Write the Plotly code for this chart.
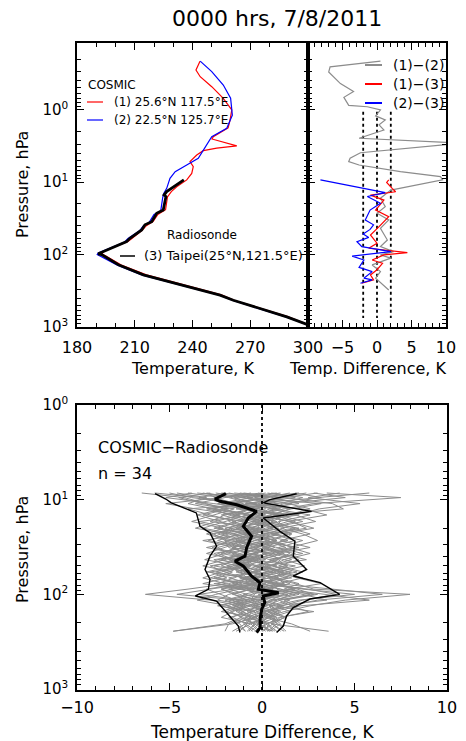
import plotly.graph_objects as go

W, H = 466, 741

# ---------------- top-left: temperature profiles ----------------
T_COSMIC1 = [243.9, 241.8, 244.0, 250.0, 256.0, 260.4, 259.5, 258.5, 250.8, 250.1, 263.0, 252.6, 245.6,
             242.2, 238.7, 240.4, 239.6, 237.0, 231.8, 229.0, 227.0, 226.0, 222.0, 219.5, 216.0, 214.0,
             208.5, 206.5, 194.0, 193.0, 195.0, 203.0, 216.0, 233.0, 255.0, 262.0, 275.5, 289.5, 300.0]
P_COSMIC1 = [0.214, 0.284, 0.351, 0.482, 0.697, 1.01, 1.39, 1.78, 2.36, 2.54, 3.16, 3.39, 3.68, 4.23,
             5.22, 6.12, 7.59, 9.33, 11.6, 13.5, 16.0, 24.0, 28.0, 35.0, 40.0, 46.0, 60.0, 66.0, 90.0,
             98.0, 105.0, 140.0, 190.0, 250.0, 360.0, 430.0, 550.0, 720.0, 930.0]
T_COSMIC2 = [244.0, 250.0, 256.0, 259.8, 260.7, 257.8, 250.0, 245.6, 243.0, 237.0, 231.0, 228.3, 226.6,
             225.0, 224.5, 223.5, 220.0, 217.5, 214.5, 212.5, 206.5, 204.5, 191.0, 190.5, 193.0, 201.0,
             214.0, 231.0, 254.0, 261.0, 274.5, 288.5, 300.0]
P_COSMIC2 = [0.214, 0.299, 0.457, 0.697, 1.19, 1.81, 2.36, 3.61, 4.68, 5.81, 7.18, 8.85, 12.2, 14.5,
             16.5, 25.0, 28.0, 36.0, 40.0, 47.0, 60.0, 68.0, 95.0, 100.0, 108.0, 140.0, 192.0, 252.0,
             365.0, 430.0, 552.0, 726.0, 935.0]
T_SONDE = [235.5, 226.6, 225.2, 226.2, 224.8, 221.4, 218.8, 215.3, 213.6, 207.5, 205.8, 192.0, 191.0,
           192.8, 201.5, 214.5, 231.8, 254.3, 261.2, 275.0, 289.0, 300.2, 302.5]
P_SONDE = [9.3, 13.5, 15.1, 15.8, 24.3, 26.9, 35.2, 38.9, 45.7, 59.6, 66.1, 93.3, 97.7, 100.0, 138.0,
           190.5, 251.0, 363.0, 427.0, 550.0, 724.0, 933.0, 1000.0]

# ---------------- top-right: temperature differences ----------------
D_12 = [0.5, -6.8, -7.0, -5.3, -3.4, -4.8, -4.1, -1.4, 0.5, -0.2, 1.2, 0.3, 1.0, -2.6, 11.0, 11.0, -2.4,
        -3.9, -4.1, -2.6, 3.4, 9.2, 9.5, 2.0, 0.5, 1.2, 0.0, 1.7, 0.5, 1.5, 0.5, 2.4, 0.5, 2.0, -0.7,
        0.5, -0.2, 1.7]
P_12 = [0.214, 0.257, 0.302, 0.437, 0.562, 0.676, 0.871, 0.912, 1.01, 1.22, 1.39, 1.62, 1.91, 2.48, 2.86,
        2.98, 3.93, 4.68, 5.22, 5.81, 7.18, 8.41, 9.33, 12.9, 16.7, 21.8, 26.9, 33.3, 43.4, 63.1, 77.6,
        91.2, 101, 112, 139, 172, 212, 309]
D_13 = [1.7, 1.4, 2.2, 2.7, -0.95, 1.0, -0.2, 1.7, 0.3, -0.95, 0.0, -1.2, 4.4, 1.0, -0.7, 0.8, 0.0,
        -0.95, -0.5, -2.2]
P_13 = [9.33, 10.1, 12.2, 13.6, 15.1, 17.7, 24.3, 30.0, 41.2, 53.7, 69.8, 81.8, 94.2, 101, 119, 132,
        162, 191, 224, 249]
D_23 = [-8.2, 1.2, -1.4, 0.5, -1.0, -1.7, -0.5, -1.0, -2.0, -1.2, -2.9, -2.2, 2.0, -3.6, -1.9, -2.6,
        -0.7, -1.9, -0.7, -2.4]
P_23 = [9.33, 14.0, 15.8, 19.6, 24.3, 33.3, 38.9, 45, 52, 58, 66.4, 77.6, 91.0, 105, 119, 150, 172,
        212, 224, 249]
REF_DIFFS = [-2, 0, 2]
REF_P = [1.07, 750]

# ---------------- bottom: COSMIC - Radiosonde, n = 34 ----------------
LEVELS = [8.5, 9.5, 11, 12.5, 14.5, 17, 20, 23, 27, 32, 37, 43, 50, 58, 67, 77, 88, 100, 115, 132,
          152, 175, 205, 245]
PROFILES = [
    [-6.5, -4.2, -3.0, -2.1, -3.5, -2.2, -1.0, -2.8, -1.5, -0.4, -2.0, -3.1, -1.2, -2.5, -1.0, -0.3, -2.2, -1.5, -0.8, -1.9, -1.0, -0.6, -1.4, -0.9],
    [-5.0, -3.8, -1.2, -2.6, -1.8, -0.5, -2.0, -1.1, 0.3, -1.6, -0.8, -2.4, -0.5, 0.6, -1.2, 0.8, 1.9, 2.8, 1.0, 0.2, -0.5, 0.4, -0.3, 0.6],
    [-3.5, -1.0, 0.5, -0.8, 1.2, 0.3, -0.6, 0.9, -0.2, 0.7, -0.5, 0.4, 1.3, -0.4, 0.6, 1.5, 0.2, 1.8, -0.6, 0.5, 0.9, -0.2, 0.3, -0.4],
    [1.5, 0.2, -1.8, 0.8, -0.4, 1.6, 2.4, 0.5, 1.8, 0.2, 1.0, -0.8, 0.6, 1.9, 0.3, -0.5, 2.5, 4.0, 2.2, 1.1, 0.4, 1.2, 0.6, 1.0],
    [4.2, 2.5, 5.3, 3.1, 1.8, 2.9, 1.0, 2.2, 3.0, 1.5, 2.6, 1.2, 2.3, 0.8, 1.9, 3.2, 1.4, 2.6, 0.9, 1.6, 0.3, 0.8, -0.2, 0.4],
    [-2.8, -4.5, -3.2, -1.5, -2.6, -3.8, -2.1, -3.0, -1.8, -2.7, -1.2, -2.0, -3.2, -1.6, -2.4, -1.1, -3.0, -2.2, -1.4, -0.8, -1.7, -1.1, -2.0, -4.8],
    [0.8, -1.5, -0.4, 1.5, 0.6, -1.2, 0.9, -0.6, -1.8, 0.4, 1.2, -0.2, -1.5, 0.5, 1.6, -0.8, 0.3, -1.0, 0.8, -0.5, 0.2, -0.9, 0.4, 0.1],
    [-1.2, 0.6, 2.0, -0.5, -2.2, -0.8, -1.8, 0.4, -0.9, -1.6, 0.3, -1.0, -2.6, -0.7, 0.9, -0.4, -1.3, 0.5, -0.2, 0.6, -0.3, 0.2, -0.6, -0.2],
    [2.8, 4.5, 1.2, 0.4, 2.0, -0.5, 0.8, 1.6, 0.2, 1.3, -0.6, 0.9, -0.1, 1.2, -0.4, 0.8, 3.8, 6.5, 3.0, 1.5, 2.5, 1.0, 0.5, 1.2],
    [-4.0, -2.2, -5.2, -3.6, -1.2, -2.5, -3.6, -1.8, -2.9, -1.0, -2.4, -1.5, -0.6, -2.8, -1.9, -3.2, -1.2, -2.5, -3.5, -1.8, -1.0, -1.6, -0.8, -1.2],
    [0.3, 1.8, -0.9, 2.2, 3.5, 1.4, 0.2, -0.9, 0.8, -0.3, 1.8, 0.6, -0.2, 1.0, 2.2, 0.9, -0.6, 1.2, 0.4, -0.3, 0.8, 0.3, -0.1, 0.5],
    [-1.8, -0.5, -2.4, -1.0, 0.2, -1.6, -0.4, -2.2, -0.9, -2.0, -3.0, -1.4, -2.2, -0.8, -1.5, -2.4, -1.0, 0.2, -1.6, -0.9, -1.4, -0.5, -1.0, -0.5],
    [3.5, 7.5, 2.8, 1.2, -0.2, 1.5, 2.8, 1.0, -0.4, 2.0, 0.6, 1.6, 0.4, -0.5, 0.8, 2.0, 1.2, 3.4, 5.8, 2.1, 0.6, 1.3, 0.2, 0.7],
    [-3.0, -1.6, -0.3, -4.0, -2.8, -1.4, -2.6, -0.8, -3.2, -1.4, -2.2, -0.4, -1.6, -3.0, -0.6, -1.8, -4.0, -6.3, -2.8, -1.2, -2.2, -0.4, -0.9, -1.6],
    [0.0, -2.6, -1.4, -0.2, -1.0, 0.8, -0.8, 0.2, -2.0, -0.8, 0.4, -1.8, -0.6, -1.4, 0.2, -1.0, 0.6, -0.6, -1.8, -0.2, -0.8, 0.0, -0.5, -0.1],
    [-5.8, -3.2, -2.0, -0.8, -1.6, 0.4, -1.4, -0.3, 0.6, -0.6, -1.6, 0.2, -0.9, -0.2, -1.8, -0.6, -0.2, 0.8, 0.2, -0.6, 0.1, -0.3, 0.1, 0.3],
    [1.0, -0.8, 3.2, 1.6, 0.4, -0.6, 1.5, 2.6, 1.0, 2.6, 0.8, 2.0, 0.9, 2.2, 1.1, 0.0, 1.0, 2.2, 3.5, 0.8, 1.5, 0.5, 0.9, 1.3],
    [-2.2, 0.4, -1.5, -2.8, -0.8, -2.0, -3.2, -1.5, -0.4, -1.2, -0.2, -2.6, -1.8, -0.4, -2.6, -1.3, -2.2, -1.2, -0.4, -1.5, -0.6, -1.2, -0.4, -0.7],
    [2.0, -0.4, 0.9, -1.4, 0.9, 2.2, 0.4, -0.4, 1.4, -0.5, 0.2, -0.6, 1.8, 0.2, -0.9, 1.2, 0.5, 0.9, -0.2, 1.2, -0.1, 0.6, 1.0, 0.4],
    [-0.6, -2.0, -3.6, -1.8, -3.2, -1.0, -1.2, -2.4, -1.2, -3.0, -1.4, -0.8, -2.8, -2.0, -1.0, -0.2, -1.5, -3.4, -1.0, -2.4, -0.4, -1.8, -1.2, -0.9],
    [5.8, 3.0, 1.4, 2.6, 1.4, 0.5, 1.8, 0.6, 2.2, 0.9, 1.5, 0.8, -0.4, 1.6, 0.4, 1.8, 2.8, 8.0, 4.5, 2.6, 1.2, 0.2, 1.6, 2.6],
    [-1.0, 1.2, -0.2, 0.2, -1.4, -0.2, -0.2, -1.6, 0.0, -0.2, -0.9, -0.1, 0.2, -1.0, -0.4, 0.4, -0.8, 0.4, -0.9, 0.0, -1.1, -0.3, -0.2, -0.6],
    [-3.8, -5.2, -2.6, -0.4, -2.0, -2.8, -0.2, -1.2, -2.4, -0.9, -2.6, -1.8, -0.8, -2.2, -3.2, -2.0, -0.5, -1.8, -2.4, -0.6, -1.6, -2.2, -0.6, -1.4],
    [0.5, 2.2, 1.0, -0.6, 0.8, 1.0, -0.3, 1.4, 0.6, 1.6, 0.0, 1.2, 0.5, -0.2, 1.4, 0.4, 1.8, -0.2, 1.5, 0.4, 0.6, -0.5, 0.6, 0.0],
    [-2.5, -0.9, 0.8, -2.2, -0.6, -1.2, -2.4, -0.4, -1.4, 0.2, -1.2, -0.6, -1.9, -1.2, -0.2, -2.6, -0.6, -1.6, -0.2, -1.2, -0.2, 0.5, -0.9, -0.3],
    [1.8, 3.2, -0.6, 0.6, 2.6, 0.9, 1.2, 0.2, -0.8, 0.8, 2.2, 0.4, 1.4, 0.6, -0.6, 0.6, 2.2, 5.0, 2.0, 0.6, 2.8, 0.9, 0.3, 0.8],
    [-4.6, -3.0, -4.0, -2.6, -0.4, -3.4, -1.6, -2.6, -2.0, -1.8, -0.6, -2.2, -1.0, -1.8, -2.8, -0.8, -2.8, -4.6, -1.2, -2.2, -1.2, -0.8, -1.8, -2.0],
    [0.2, -1.2, 1.6, 0.4, -0.2, 0.0, 0.6, -0.8, 0.4, -1.0, 0.6, -0.4, 0.1, 0.8, -0.2, -0.6, 1.0, 2.0, 0.6, -0.4, 0.4, 0.1, -0.4, 0.2],
    [-1.5, 1.0, -0.8, -1.2, 1.8, -0.4, -1.0, 0.8, -1.2, 0.4, -0.4, -1.2, 0.8, -0.6, 0.5, -1.6, -0.2, 1.4, -1.2, 0.3, -0.6, -0.7, 0.2, -0.3],
    [3.0, 1.2, 3.8, 4.4, 0.6, 1.8, 0.4, 1.6, 1.2, 0.0, 1.0, 2.4, 0.2, 1.0, 0.8, 1.2, 0.0, 3.0, 1.2, 1.8, 0.0, 0.7, 0.5, 3.6],
    [-2.0, -3.4, -1.0, -0.6, -1.4, -1.8, -0.6, -0.2, -1.0, -2.4, -1.8, -0.2, -1.4, -0.9, -1.2, -0.4, -1.8, -0.8, -2.0, -1.0, -1.9, -1.0, -0.4, -0.8],
    [-0.2, 0.4, -2.2, 1.0, -0.6, 0.6, 0.0, -1.0, 0.8, -0.4, 0.2, -0.8, -0.4, 0.3, -1.0, 0.2, -1.2, 0.6, 0.0, -0.8, 0.3, -0.5, -0.1, 0.0],
    [2.4, 0.8, 0.2, -0.2, 1.0, -0.2, 2.0, 0.4, 0.2, 1.8, 0.4, 1.0, 0.6, 1.4, 0.4, 0.6, 0.8, 1.6, 0.8, 0.4, 1.0, 0.4, 0.8, 0.3],
    [-3.2, -1.8, -0.6, -3.0, -1.6, 0.2, -1.6, -1.8, -0.6, -1.6, -0.8, -1.6, -0.2, -1.2, -0.8, -1.4, -0.8, -0.4, -0.6, -1.6, -0.4, -0.3, -1.6, -4.8],
]
MEAN_D = [-1.95, -2.54, -2.27, -1.37, -0.29, -0.74, -1.01, -0.56, -0.83, -0.92, -1.46, -1.0, -0.56, -0.11,
          -0.2, 0.9, 0.07, 0.15, -0.02, -0.1, -0.1, -0.29]
MEAN_P = [8.65, 9.84, 10.4, 11.3, 13.3, 15.6, 19.1, 24.3, 32.2, 39.5, 44.6, 50.4, 64.2, 75.3, 88.5, 96,
          104, 122, 144, 183, 224, 253]
LOW_D = [-5.78, -5.2, -4.9, -3.55, -3.35, -2.81, -2.45, -2.81, -3.08, -2.81, -2.9, -3.6, -2.45, -1.73,
         -1.28, -1.19]
LOW_P = [8.65, 9.84, 10.8, 13.8, 19.1, 22.4, 31, 39.5, 54.6, 69.5, 88.5, 104, 118, 169, 216, 253]
HIGH_D = [1.87, 0.43, 0.07, 2.68, 0.07, 0.97, 1.78, 1.69, 2.41, 1.69, 3.14, 4.2, 2.59, 1.69, 1.33, 1.15, 0.79]
HIGH_P = [8.65, 10, 10.8, 13.3, 15.6, 21.6, 27.5, 39.5, 54.6, 64, 75, 100, 112, 138, 169, 216, 253]
ZERO_P = [1, 1100]

# tick labels
P_TICKS = [1, 10, 100, 1000]
P_TICKTEXT = ["10<sup>0</sup>", "10<sup>1</sup>", "10<sup>2</sup>", "10<sup>3</sup>"]
P_MINOR = [m * 10 ** e for e in (-1, 0, 1, 2) for m in range(2, 10)]

FONT = "DejaVu Sans"
RED, BLUE, GRAY = "#ff0000", "#0000ff", "#8c8c8c"


def px(x):
    return x / W


def py(y):
    return 1 - y / H


fig = go.Figure()

# top-left
fig.add_trace(go.Scatter(x=T_COSMIC1, y=P_COSMIC1, mode="lines", line=dict(color=RED, width=1.2), xaxis="x", yaxis="y"))
fig.add_trace(go.Scatter(x=T_COSMIC2, y=P_COSMIC2, mode="lines", line=dict(color=BLUE, width=1.2), xaxis="x", yaxis="y"))
fig.add_trace(go.Scatter(x=T_SONDE, y=P_SONDE, mode="lines", line=dict(color="black", width=2.8), xaxis="x", yaxis="y"))

# top-right
for d in REF_DIFFS:
    fig.add_trace(go.Scatter(x=[d, d], y=REF_P, mode="lines", line=dict(color="black", width=1.8, dash="dot"), xaxis="x2", yaxis="y2"))
fig.add_trace(go.Scatter(x=D_12, y=P_12, mode="lines", line=dict(color=GRAY, width=1.2), xaxis="x2", yaxis="y2"))
fig.add_trace(go.Scatter(x=D_13, y=P_13, mode="lines", line=dict(color=RED, width=1.2), xaxis="x2", yaxis="y2"))
fig.add_trace(go.Scatter(x=D_23, y=P_23, mode="lines", line=dict(color=BLUE, width=1.2), xaxis="x2", yaxis="y2"))

# bottom
for prof in PROFILES:
    fig.add_trace(go.Scatter(x=prof, y=LEVELS, mode="lines", line=dict(color=GRAY, width=1), xaxis="x3", yaxis="y3"))
fig.add_trace(go.Scatter(x=LOW_D, y=LOW_P, mode="lines", line=dict(color="black", width=1.4), xaxis="x3", yaxis="y3"))
fig.add_trace(go.Scatter(x=HIGH_D, y=HIGH_P, mode="lines", line=dict(color="black", width=1.4), xaxis="x3", yaxis="y3"))
fig.add_trace(go.Scatter(x=MEAN_D, y=MEAN_P, mode="lines", line=dict(color="black", width=3), xaxis="x3", yaxis="y3"))
fig.add_trace(go.Scatter(x=[0, 0], y=ZERO_P, mode="lines", line=dict(color="black", width=1.8, dash="dot"), xaxis="x3", yaxis="y3"))

axis_base = dict(showline=True, linecolor="black", linewidth=1.5, mirror="ticks", ticks="inside",
                 ticklen=7, tickwidth=1, tickcolor="black", showgrid=False, zeroline=False,
                 automargin=False)
xfont = dict(tickfont=dict(family=FONT, size=16, color="black"))
ylog = dict(type="log", tickvals=P_TICKS, ticktext=P_TICKTEXT,
            minor=dict(tickvals=P_MINOR, ticks="inside", ticklen=4, tickcolor="black"),
            tickfont=dict(family=FONT, size=15, color="black"), ticklabelstandoff=4)

top_dom = [py(327), py(43)]
bot_dom = [py(690), py(405)]

fig.update_layout(
    width=W, height=H, margin=dict(l=0, r=0, t=0, b=0, autoexpand=False),
    paper_bgcolor="white", plot_bgcolor="white", showlegend=False,
    xaxis=dict(**axis_base, **xfont, domain=[px(77), px(308)], anchor="y", range=[180, 300],
               tick0=180, dtick=30, minor=dict(dtick=10, ticks="inside", ticklen=4, tickcolor="black"),
               ticklabelstandoff=5),
    yaxis=dict(**axis_base, **ylog, domain=top_dom, anchor="x", range=[3, -0.92]),
    xaxis2=dict(**axis_base, **xfont, domain=[px(308), px(446)], anchor="y2", range=[-10, 10],
                tickvals=[-5, 0, 5, 10], minor=dict(dtick=1, tick0=0, ticks="inside", ticklen=4, tickcolor="black"),
                ticklabelstandoff=5),
    yaxis2=dict(**axis_base, type="log", domain=top_dom, anchor="x2", range=[3, -0.92],
                tickvals=P_TICKS, showticklabels=False,
                minor=dict(tickvals=P_MINOR, ticks="inside", ticklen=4, tickcolor="black")),
    xaxis3=dict(**axis_base, **xfont, domain=[px(77), px(447)], anchor="y3", range=[-10, 10],
                tick0=0, dtick=5, minor=dict(dtick=1, tick0=0, ticks="inside", ticklen=4, tickcolor="black"),
                ticklabelstandoff=2),
    yaxis3=dict(**axis_base, **ylog, domain=bot_dom, anchor="x3", range=[3.01, 0]),
)


def txt(x, y, s, size, xanchor="left", angle=0):
    fig.add_annotation(x=px(x), y=py(y), xref="paper", yref="paper", text=s, showarrow=False,
                       xanchor=xanchor, yanchor="middle", textangle=angle,
                       font=dict(family=FONT, size=size, color="black"))


txt(277, 18, "0000 hrs, 7/8/2011", 22, "center")
txt(193, 368, "Temperature, K", 16, "center")
txt(367, 368, "Temp. Difference, K", 16, "center")
txt(262, 732, "Temperature Difference, K", 17, "center")
txt(22, 185, "Pressure, hPa", 16, "center", -90)
txt(22, 550, "Pressure, hPa", 16, "center", -90)

# legend, top-left
txt(86, 85, "COSMIC", 12)
txt(112, 102, "(1) 25.6°N 117.5°E", 12)
txt(112, 120, "(2) 22.5°N 125.7°E", 12)
txt(165, 235, "Radiosonde", 12)
txt(142, 256, "(3) Taipei(25°N,121.5°E)", 13)
# legend, top-right
txt(391, 65, "(1)−(2)", 14)
txt(391, 84, "(1)−(3)", 14)
txt(391, 103, "(2)−(3)", 14)
# bottom panel text
txt(96, 447, "COSMIC−Radiosonde", 16)
txt(96, 473, "n = 34", 16)

for (x0, x1, y, c, w) in [(87, 103, 102, RED, 1.2), (87, 103, 120, BLUE, 1.2), (120, 135, 256, "black", 1.5),
                          (365, 382, 65, GRAY, 2), (365, 382, 84, RED, 2), (365, 382, 103, BLUE, 2)]:
    fig.add_shape(type="line", xref="paper", yref="paper", x0=px(x0), x1=px(x1), y0=py(y), y1=py(y),
                  line=dict(color=c, width=w))

fig.write_html("out.html", config={"displayModeBar": False},
               post_script="document.body.style.margin='0px';document.body.style.padding='0px';")
